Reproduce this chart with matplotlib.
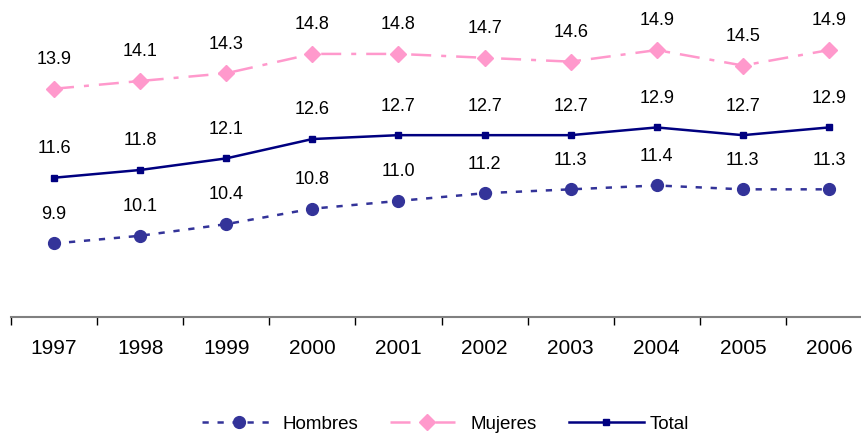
import matplotlib.pyplot as plt

plt.rcParams["font.family"] = ["Liberation Sans", "DejaVu Sans"]

# ============================================================
# Data
# ============================================================
years = ["1997", "1998", "1999", "2000", "2001", "2002", "2003", "2004", "2005", "2006"]
hombres = [9.9, 10.1, 10.4, 10.8, 11.0, 11.2, 11.3, 11.4, 11.3, 11.3]
mujeres = [13.9, 14.1, 14.3, 14.8, 14.8, 14.7, 14.6, 14.9, 14.5, 14.9]
total = [11.6, 11.8, 12.1, 12.6, 12.7, 12.7, 12.7, 12.9, 12.7, 12.9]

# ============================================================
# Plot
# ============================================================
fig = plt.figure(figsize=(8.62, 4.34), dpi=100)
ax = fig.add_axes([11 / 862, 117 / 434, 861 / 862, 309.5 / 434])

x = list(range(len(years)))

ax.plot(x, hombres, color="#333399", linestyle=(0, (2.5, 3.5)), linewidth=1.8,
        marker="o", markersize=8.5, label="Hombres")
ax.plot(x, mujeres, color="#FF99CC", linestyle=(0, (8, 4, 2, 4)), linewidth=1.8,
        marker="D", markersize=8, label="Mujeres")
ax.plot(x, total, color="#000080", linestyle="-", linewidth=1.8,
        marker="s", markersize=5, label="Total")

for series in (hombres, mujeres, total):
    for xi, v in zip(x, series):
        ax.annotate(f"{v:.1f}", (xi, v), xytext=(0, 21), textcoords="offset points",
                    ha="center", va="center", fontsize=13)

ax.set_xlim(-0.5, len(years) - 0.5)
ax.set_ylim(8, 16)

for side in ("top", "right", "left"):
    ax.spines[side].set_visible(False)
ax.spines["bottom"].set_color("#808080")
ax.spines["bottom"].set_linewidth(1.5)

ax.set_yticks([])
ax.set_xticks([i - 0.5 for i in range(len(years))])
ax.set_xticklabels([])
ax.set_xticks(x, minor=True)
ax.set_xticklabels(years, minor=True, fontsize=15)
ax.tick_params(axis="x", which="major", length=6, width=1, color="#000000")
ax.tick_params(axis="x", which="minor", length=0, pad=16)

fig.legend(loc="center", bbox_to_anchor=(445 / 862, 1 - 424 / 434), ncol=3, frameon=False,
           fontsize=13.5, handlelength=4, columnspacing=1.7, handletextpad=0.3,
           borderpad=0, borderaxespad=0)

fig.savefig("out.png", dpi=100)
